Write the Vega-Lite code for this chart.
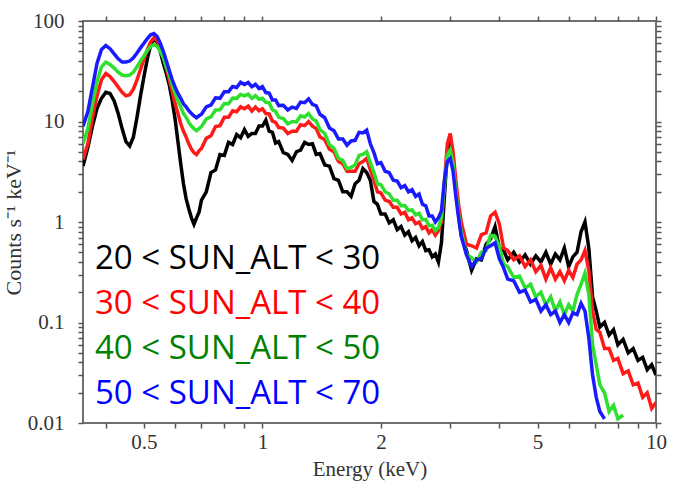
{
"$schema": "https://vega.github.io/schema/vega-lite/v6.json",
"width": 573, "height": 402,
"autosize": {"type": "none"},
"padding": {"left": 83, "top": 21, "right": 17, "bottom": 59},
"background": "white",
"config": {"view": {"stroke": "#707070", "strokeWidth": 2}, "axis": {"domain": false, "grid": false, "ticks": true, "tickSize": 5, "tickColor": "#555555", "tickWidth": 1.5, "labelFont": "Liberation Serif", "labelFontSize": 21, "labelColor": "#333333", "titleFont": "Liberation Serif", "titleFontSize": 21, "titleFontWeight": "normal", "titleColor": "#333333", "labelOverlap": false, "labelBound": false, "labelFlush": false}},
"layer": [
{
"data": {"values": [
{"g":"A","e":0.35,"v":3.6},{"g":"A","e":0.36,"v":5.5},{"g":"A","e":0.37,"v":9},{"g":"A","e":0.38,"v":13.5},{"g":"A","e":0.39,"v":17},{"g":"A","e":0.40,"v":19.5},{"g":"A","e":0.41,"v":19},{"g":"A","e":0.42,"v":16},{"g":"A","e":0.43,"v":12},{"g":"A","e":0.44,"v":8.5},{"g":"A","e":0.45,"v":6.3},{"g":"A","e":0.46,"v":5.7},{"g":"A","e":0.47,"v":7},{"g":"A","e":0.48,"v":11},{"g":"A","e":0.49,"v":18},{"g":"A","e":0.50,"v":28},{"g":"A","e":0.51,"v":42},{"g":"A","e":0.52,"v":58},{"g":"A","e":0.53,"v":66},{"g":"A","e":0.54,"v":62},{"g":"A","e":0.55,"v":50},{"g":"A","e":0.56,"v":38},{"g":"A","e":0.57,"v":30},{"g":"A","e":0.58,"v":23},{"g":"A","e":0.59,"v":16},{"g":"A","e":0.60,"v":10.5},{"g":"A","e":0.61,"v":6.3},{"g":"A","e":0.62,"v":3.8},{"g":"A","e":0.63,"v":2.4},{"g":"A","e":0.64,"v":1.7},{"g":"A","e":0.65,"v":1.35},{"g":"A","e":0.66,"v":1.1},{"g":"A","e":0.67,"v":0.95},{"g":"A","e":0.68,"v":1.1},{"g":"A","e":0.69,"v":1.25},{"g":"A","e":0.70,"v":1.65},
{"g":"A","e":0.72,"v":2.0},{"g":"A","e":0.74,"v":3.1},{"g":"A","e":0.76,"v":3.3},{"g":"A","e":0.78,"v":4.7},{"g":"A","e":0.80,"v":4.6},{"g":"A","e":0.82,"v":6.2},{"g":"A","e":0.84,"v":5.9},{"g":"A","e":0.86,"v":7.4},{"g":"A","e":0.88,"v":6.9},{"g":"A","e":0.90,"v":8.3},{"g":"A","e":0.92,"v":7.1},{"g":"A","e":0.94,"v":7.6},{"g":"A","e":0.96,"v":7.6},{"g":"A","e":0.98,"v":9.0},{"g":"A","e":1.00,"v":9.0},{"g":"A","e":1.02,"v":10.3},{"g":"A","e":1.04,"v":8.0},{"g":"A","e":1.06,"v":7.8},{"g":"A","e":1.08,"v":6.1},{"g":"A","e":1.10,"v":6.3},
{"g":"A","e":1.13,"v":4.9},{"g":"A","e":1.16,"v":4.7},{"g":"A","e":1.19,"v":4.1},{"g":"A","e":1.22,"v":5.0},{"g":"A","e":1.25,"v":5.2},{"g":"A","e":1.28,"v":6.2},{"g":"A","e":1.31,"v":5.9},{"g":"A","e":1.34,"v":6.0},{"g":"A","e":1.37,"v":4.7},{"g":"A","e":1.40,"v":4.8},
{"g":"A","e":1.44,"v":3.7},{"g":"A","e":1.48,"v":3.6},{"g":"A","e":1.52,"v":2.7},{"g":"A","e":1.56,"v":2.6},{"g":"A","e":1.60,"v":2.0},{"g":"A","e":1.64,"v":2.0},{"g":"A","e":1.68,"v":1.8},{"g":"A","e":1.72,"v":2.4},{"g":"A","e":1.76,"v":2.6},{"g":"A","e":1.80,"v":3.4},{"g":"A","e":1.84,"v":3.1},{"g":"A","e":1.88,"v":2.6},{"g":"A","e":1.92,"v":1.6},{"g":"A","e":1.96,"v":1.5},{"g":"A","e":2.00,"v":1.2},
{"g":"A","e":2.05,"v":1.2},{"g":"A","e":2.10,"v":0.98},{"g":"A","e":2.15,"v":1.05},{"g":"A","e":2.20,"v":0.84},{"g":"A","e":2.25,"v":0.9},{"g":"A","e":2.30,"v":0.74},{"g":"A","e":2.35,"v":0.8},{"g":"A","e":2.40,"v":0.65},{"g":"A","e":2.45,"v":0.7},{"g":"A","e":2.50,"v":0.58},{"g":"A","e":2.55,"v":0.64},{"g":"A","e":2.60,"v":0.52},{"g":"A","e":2.65,"v":0.53},{"g":"A","e":2.70,"v":0.45},{"g":"A","e":2.75,"v":0.48},{"g":"A","e":2.80,"v":0.4},{"g":"A","e":2.85,"v":0.62},{"g":"A","e":2.90,"v":1.8},{"g":"A","e":2.95,"v":5.0},{"g":"A","e":3.00,"v":6.8},{"g":"A","e":3.05,"v":4.5},{"g":"A","e":3.10,"v":2.2},{"g":"A","e":3.15,"v":1.2},{"g":"A","e":3.20,"v":0.75},
{"g":"A","e":3.30,"v":0.52},{"g":"A","e":3.40,"v":0.33},{"g":"A","e":3.50,"v":0.43},{"g":"A","e":3.60,"v":0.42},{"g":"A","e":3.70,"v":0.6},{"g":"A","e":3.80,"v":0.68},{"g":"A","e":3.90,"v":0.9},{"g":"A","e":4.00,"v":0.55},{"g":"A","e":4.10,"v":0.52},{"g":"A","e":4.20,"v":0.42},
{"g":"A","e":4.35,"v":0.5},{"g":"A","e":4.50,"v":0.4},{"g":"A","e":4.65,"v":0.47},{"g":"A","e":4.80,"v":0.38},{"g":"A","e":4.95,"v":0.46},{"g":"A","e":5.10,"v":0.4},{"g":"A","e":5.25,"v":0.5},{"g":"A","e":5.40,"v":0.38},{"g":"A","e":5.55,"v":0.48},{"g":"A","e":5.70,"v":0.42},{"g":"A","e":5.85,"v":0.55},{"g":"A","e":6.00,"v":0.36},{"g":"A","e":6.15,"v":0.45},{"g":"A","e":6.30,"v":0.5},{"g":"A","e":6.45,"v":0.8},{"g":"A","e":6.60,"v":1.0},{"g":"A","e":6.75,"v":0.55},{"g":"A","e":6.90,"v":0.18},{"g":"A","e":7.05,"v":0.13},{"g":"A","e":7.20,"v":0.09},
{"g":"A","e":7.40,"v":0.1},{"g":"A","e":7.60,"v":0.075},{"g":"A","e":7.80,"v":0.085},{"g":"A","e":8.00,"v":0.06},{"g":"A","e":8.25,"v":0.068},{"g":"A","e":8.50,"v":0.05},{"g":"A","e":8.75,"v":0.055},{"g":"A","e":9.00,"v":0.042},{"g":"A","e":9.25,"v":0.045},{"g":"A","e":9.50,"v":0.034},{"g":"A","e":9.75,"v":0.038},{"g":"A","e":10.0,"v":0.03},

{"g":"B","e":0.35,"v":4.2},{"g":"B","e":0.36,"v":6},{"g":"B","e":0.37,"v":11},{"g":"B","e":0.38,"v":18},{"g":"B","e":0.39,"v":26},{"g":"B","e":0.40,"v":30},{"g":"B","e":0.41,"v":28},{"g":"B","e":0.42,"v":25},{"g":"B","e":0.43,"v":22},{"g":"B","e":0.44,"v":19.5},{"g":"B","e":0.45,"v":18},{"g":"B","e":0.46,"v":18.5},{"g":"B","e":0.47,"v":21},{"g":"B","e":0.48,"v":26},{"g":"B","e":0.49,"v":33},{"g":"B","e":0.50,"v":42},{"g":"B","e":0.51,"v":52},{"g":"B","e":0.52,"v":62},{"g":"B","e":0.53,"v":68},{"g":"B","e":0.54,"v":64},{"g":"B","e":0.55,"v":55},{"g":"B","e":0.56,"v":44},{"g":"B","e":0.57,"v":34},{"g":"B","e":0.58,"v":26},{"g":"B","e":0.59,"v":20},{"g":"B","e":0.60,"v":15},{"g":"B","e":0.61,"v":12},{"g":"B","e":0.62,"v":9.5},{"g":"B","e":0.63,"v":8},{"g":"B","e":0.64,"v":7},{"g":"B","e":0.65,"v":6.0},{"g":"B","e":0.66,"v":5.3},{"g":"B","e":0.67,"v":4.9},{"g":"B","e":0.68,"v":4.7},{"g":"B","e":0.69,"v":5.1},{"g":"B","e":0.70,"v":5.4},
{"g":"B","e":0.72,"v":6.8},{"g":"B","e":0.74,"v":7.2},{"g":"B","e":0.76,"v":8.9},{"g":"B","e":0.78,"v":9.1},{"g":"B","e":0.80,"v":11.0},{"g":"B","e":0.82,"v":11.0},{"g":"B","e":0.84,"v":12.8},{"g":"B","e":0.86,"v":12.5},{"g":"B","e":0.88,"v":14.0},{"g":"B","e":0.90,"v":13.4},{"g":"B","e":0.92,"v":14.2},{"g":"B","e":0.94,"v":12.7},{"g":"B","e":0.96,"v":13.9},{"g":"B","e":0.98,"v":12.8},{"g":"B","e":1.00,"v":13.4},{"g":"B","e":1.02,"v":12.0},{"g":"B","e":1.04,"v":11.9},{"g":"B","e":1.06,"v":10.1},{"g":"B","e":1.08,"v":9.8},{"g":"B","e":1.10,"v":8.7},
{"g":"B","e":1.13,"v":8.6},{"g":"B","e":1.16,"v":7.6},{"g":"B","e":1.19,"v":8.0},{"g":"B","e":1.22,"v":8.0},{"g":"B","e":1.25,"v":9.3},{"g":"B","e":1.28,"v":9.1},{"g":"B","e":1.31,"v":10.0},{"g":"B","e":1.34,"v":9.0},{"g":"B","e":1.37,"v":8.5},{"g":"B","e":1.40,"v":7.0},
{"g":"B","e":1.44,"v":6.6},{"g":"B","e":1.48,"v":5.3},{"g":"B","e":1.52,"v":5.0},{"g":"B","e":1.56,"v":4.0},{"g":"B","e":1.60,"v":3.8},{"g":"B","e":1.64,"v":3.2},{"g":"B","e":1.68,"v":3.2},{"g":"B","e":1.72,"v":3.2},{"g":"B","e":1.76,"v":3.8},{"g":"B","e":1.80,"v":4.0},{"g":"B","e":1.84,"v":4.3},{"g":"B","e":1.88,"v":3.3},{"g":"B","e":1.92,"v":2.6},{"g":"B","e":1.96,"v":2.0},{"g":"B","e":2.00,"v":1.95},
{"g":"B","e":2.05,"v":1.65},{"g":"B","e":2.10,"v":1.6},{"g":"B","e":2.15,"v":1.4},{"g":"B","e":2.20,"v":1.4},{"g":"B","e":2.25,"v":1.2},{"g":"B","e":2.30,"v":1.25},{"g":"B","e":2.35,"v":1.05},{"g":"B","e":2.40,"v":1.1},{"g":"B","e":2.45,"v":0.96},{"g":"B","e":2.50,"v":1.0},{"g":"B","e":2.55,"v":0.86},{"g":"B","e":2.60,"v":0.9},{"g":"B","e":2.65,"v":0.78},{"g":"B","e":2.70,"v":0.84},{"g":"B","e":2.75,"v":0.74},{"g":"B","e":2.80,"v":0.82},{"g":"B","e":2.85,"v":1.0},{"g":"B","e":2.90,"v":2.5},{"g":"B","e":2.95,"v":6.0},{"g":"B","e":3.00,"v":7.6},{"g":"B","e":3.05,"v":5.0},{"g":"B","e":3.10,"v":2.6},{"g":"B","e":3.15,"v":1.5},{"g":"B","e":3.20,"v":1.0},
{"g":"B","e":3.30,"v":0.6},{"g":"B","e":3.40,"v":0.58},{"g":"B","e":3.50,"v":0.55},{"g":"B","e":3.60,"v":0.75},{"g":"B","e":3.70,"v":0.78},{"g":"B","e":3.80,"v":1.15},{"g":"B","e":3.90,"v":1.25},{"g":"B","e":4.00,"v":0.95},{"g":"B","e":4.10,"v":0.55},{"g":"B","e":4.20,"v":0.52},
{"g":"B","e":4.35,"v":0.42},{"g":"B","e":4.50,"v":0.46},{"g":"B","e":4.65,"v":0.36},{"g":"B","e":4.80,"v":0.42},{"g":"B","e":4.95,"v":0.32},{"g":"B","e":5.10,"v":0.37},{"g":"B","e":5.25,"v":0.27},{"g":"B","e":5.40,"v":0.35},{"g":"B","e":5.55,"v":0.27},{"g":"B","e":5.70,"v":0.32},{"g":"B","e":5.85,"v":0.26},{"g":"B","e":6.00,"v":0.33},{"g":"B","e":6.15,"v":0.28},{"g":"B","e":6.30,"v":0.38},{"g":"B","e":6.45,"v":0.42},{"g":"B","e":6.60,"v":0.52},{"g":"B","e":6.75,"v":0.33},{"g":"B","e":6.90,"v":0.13},{"g":"B","e":7.05,"v":0.085},{"g":"B","e":7.20,"v":0.08},
{"g":"B","e":7.40,"v":0.055},{"g":"B","e":7.60,"v":0.055},{"g":"B","e":7.80,"v":0.042},{"g":"B","e":8.00,"v":0.044},{"g":"B","e":8.25,"v":0.031},{"g":"B","e":8.50,"v":0.033},{"g":"B","e":8.75,"v":0.024},{"g":"B","e":9.00,"v":0.025},{"g":"B","e":9.25,"v":0.018},{"g":"B","e":9.50,"v":0.02},{"g":"B","e":9.75,"v":0.014},{"g":"B","e":10.0,"v":0.016},

{"g":"C","e":0.35,"v":6},{"g":"C","e":0.36,"v":8.5},{"g":"C","e":0.37,"v":15},{"g":"C","e":0.38,"v":25},{"g":"C","e":0.39,"v":35},{"g":"C","e":0.40,"v":39},{"g":"C","e":0.41,"v":37},{"g":"C","e":0.42,"v":34},{"g":"C","e":0.43,"v":31},{"g":"C","e":0.44,"v":29},{"g":"C","e":0.45,"v":28.5},{"g":"C","e":0.46,"v":29},{"g":"C","e":0.47,"v":31},{"g":"C","e":0.48,"v":35},{"g":"C","e":0.49,"v":40},{"g":"C","e":0.50,"v":45},{"g":"C","e":0.51,"v":51},{"g":"C","e":0.52,"v":56},{"g":"C","e":0.53,"v":58},{"g":"C","e":0.54,"v":56},{"g":"C","e":0.55,"v":50},{"g":"C","e":0.56,"v":43},{"g":"C","e":0.57,"v":35},{"g":"C","e":0.58,"v":29},{"g":"C","e":0.59,"v":23},{"g":"C","e":0.60,"v":19},{"g":"C","e":0.61,"v":16},{"g":"C","e":0.62,"v":14},{"g":"C","e":0.63,"v":12},{"g":"C","e":0.64,"v":11},{"g":"C","e":0.65,"v":9.8},{"g":"C","e":0.66,"v":9},{"g":"C","e":0.67,"v":8.5},{"g":"C","e":0.68,"v":8.1},{"g":"C","e":0.69,"v":8.5},{"g":"C","e":0.70,"v":8.9},
{"g":"C","e":0.72,"v":10.6},{"g":"C","e":0.74,"v":11.1},{"g":"C","e":0.76,"v":13.0},{"g":"C","e":0.78,"v":13.1},{"g":"C","e":0.80,"v":15.1},{"g":"C","e":0.82,"v":15.0},{"g":"C","e":0.84,"v":17.1},{"g":"C","e":0.86,"v":17.0},{"g":"C","e":0.88,"v":18.6},{"g":"C","e":0.90,"v":18.0},{"g":"C","e":0.92,"v":18.7},{"g":"C","e":0.94,"v":17.0},{"g":"C","e":0.96,"v":18.1},{"g":"C","e":0.98,"v":16.6},{"g":"C","e":1.00,"v":17.0},{"g":"C","e":1.02,"v":15.5},{"g":"C","e":1.04,"v":15.4},{"g":"C","e":1.06,"v":13.1},{"g":"C","e":1.08,"v":12.6},{"g":"C","e":1.10,"v":11.0},
{"g":"C","e":1.13,"v":10.7},{"g":"C","e":1.16,"v":9.5},{"g":"C","e":1.19,"v":10.0},{"g":"C","e":1.22,"v":9.9},{"g":"C","e":1.25,"v":11.4},{"g":"C","e":1.28,"v":11.1},{"g":"C","e":1.31,"v":12.0},{"g":"C","e":1.34,"v":10.6},{"g":"C","e":1.37,"v":10.1},{"g":"C","e":1.40,"v":8.3},
{"g":"C","e":1.44,"v":7.6},{"g":"C","e":1.48,"v":5.9},{"g":"C","e":1.52,"v":5.4},{"g":"C","e":1.56,"v":4.3},{"g":"C","e":1.60,"v":4.1},{"g":"C","e":1.64,"v":3.4},{"g":"C","e":1.68,"v":3.5},{"g":"C","e":1.72,"v":3.7},{"g":"C","e":1.76,"v":4.6},{"g":"C","e":1.80,"v":4.7},{"g":"C","e":1.84,"v":5.0},{"g":"C","e":1.88,"v":3.9},{"g":"C","e":1.92,"v":3.1},{"g":"C","e":1.96,"v":2.4},{"g":"C","e":2.00,"v":2.35},
{"g":"C","e":2.05,"v":2.0},{"g":"C","e":2.10,"v":1.9},{"g":"C","e":2.15,"v":1.65},{"g":"C","e":2.20,"v":1.65},{"g":"C","e":2.25,"v":1.45},{"g":"C","e":2.30,"v":1.46},{"g":"C","e":2.35,"v":1.3},{"g":"C","e":2.40,"v":1.32},{"g":"C","e":2.45,"v":1.18},{"g":"C","e":2.50,"v":1.22},{"g":"C","e":2.55,"v":1.05},{"g":"C","e":2.60,"v":1.06},{"g":"C","e":2.65,"v":0.92},{"g":"C","e":2.70,"v":0.93},{"g":"C","e":2.75,"v":0.82},{"g":"C","e":2.80,"v":0.88},{"g":"C","e":2.85,"v":1.1},{"g":"C","e":2.90,"v":2.3},{"g":"C","e":2.95,"v":4.6},{"g":"C","e":3.00,"v":5.2},{"g":"C","e":3.05,"v":3.8},{"g":"C","e":3.10,"v":2.0},{"g":"C","e":3.15,"v":1.2},{"g":"C","e":3.20,"v":0.8},
{"g":"C","e":3.30,"v":0.48},{"g":"C","e":3.40,"v":0.44},{"g":"C","e":3.50,"v":0.4},{"g":"C","e":3.60,"v":0.5},{"g":"C","e":3.70,"v":0.52},{"g":"C","e":3.80,"v":0.74},{"g":"C","e":3.90,"v":0.72},{"g":"C","e":4.00,"v":0.57},{"g":"C","e":4.10,"v":0.38},{"g":"C","e":4.20,"v":0.36},
{"g":"C","e":4.35,"v":0.28},{"g":"C","e":4.50,"v":0.29},{"g":"C","e":4.65,"v":0.22},{"g":"C","e":4.80,"v":0.24},{"g":"C","e":4.95,"v":0.18},{"g":"C","e":5.10,"v":0.2},{"g":"C","e":5.25,"v":0.15},{"g":"C","e":5.40,"v":0.18},{"g":"C","e":5.55,"v":0.13},{"g":"C","e":5.70,"v":0.16},{"g":"C","e":5.85,"v":0.12},{"g":"C","e":6.00,"v":0.15},{"g":"C","e":6.15,"v":0.13},{"g":"C","e":6.30,"v":0.19},{"g":"C","e":6.45,"v":0.24},{"g":"C","e":6.60,"v":0.31},{"g":"C","e":6.75,"v":0.19},{"g":"C","e":6.90,"v":0.06},{"g":"C","e":7.05,"v":0.038},{"g":"C","e":7.20,"v":0.024},
{"g":"C","e":7.40,"v":0.02},{"g":"C","e":7.60,"v":0.013},{"g":"C","e":7.80,"v":0.015},{"g":"C","e":8.00,"v":0.011},{"g":"C","e":8.25,"v":0.012},

{"g":"D","e":0.35,"v":9},{"g":"D","e":0.36,"v":12.5},{"g":"D","e":0.37,"v":22},{"g":"D","e":0.38,"v":38},{"g":"D","e":0.39,"v":52},{"g":"D","e":0.40,"v":57},{"g":"D","e":0.41,"v":53},{"g":"D","e":0.42,"v":47},{"g":"D","e":0.43,"v":42},{"g":"D","e":0.44,"v":39},{"g":"D","e":0.45,"v":39},{"g":"D","e":0.46,"v":40},{"g":"D","e":0.47,"v":43},{"g":"D","e":0.48,"v":48},{"g":"D","e":0.49,"v":54},{"g":"D","e":0.50,"v":60},{"g":"D","e":0.51,"v":67},{"g":"D","e":0.52,"v":73},{"g":"D","e":0.53,"v":75},{"g":"D","e":0.54,"v":70},{"g":"D","e":0.55,"v":60},{"g":"D","e":0.56,"v":50},{"g":"D","e":0.57,"v":40},{"g":"D","e":0.58,"v":32},{"g":"D","e":0.59,"v":26},{"g":"D","e":0.60,"v":22},{"g":"D","e":0.61,"v":19},{"g":"D","e":0.62,"v":17},{"g":"D","e":0.63,"v":15},{"g":"D","e":0.64,"v":14},{"g":"D","e":0.65,"v":12.8},{"g":"D","e":0.66,"v":12},{"g":"D","e":0.67,"v":11.4},{"g":"D","e":0.68,"v":10.9},{"g":"D","e":0.69,"v":11.4},{"g":"D","e":0.70,"v":11.8},
{"g":"D","e":0.72,"v":14.0},{"g":"D","e":0.74,"v":14.6},{"g":"D","e":0.76,"v":17.2},{"g":"D","e":0.78,"v":17.0},{"g":"D","e":0.80,"v":19.8},{"g":"D","e":0.82,"v":19.8},{"g":"D","e":0.84,"v":22.3},{"g":"D","e":0.86,"v":21.8},{"g":"D","e":0.88,"v":24.5},{"g":"D","e":0.90,"v":23.3},{"g":"D","e":0.92,"v":24.4},{"g":"D","e":0.94,"v":22.2},{"g":"D","e":0.96,"v":23.4},{"g":"D","e":0.98,"v":21.3},{"g":"D","e":1.00,"v":22.2},{"g":"D","e":1.02,"v":19.4},{"g":"D","e":1.04,"v":19.2},{"g":"D","e":1.06,"v":16.4},{"g":"D","e":1.08,"v":16.4},{"g":"D","e":1.10,"v":14.4},
{"g":"D","e":1.13,"v":14.5},{"g":"D","e":1.16,"v":13.0},{"g":"D","e":1.19,"v":13.9},{"g":"D","e":1.22,"v":13.5},{"g":"D","e":1.25,"v":15.6},{"g":"D","e":1.28,"v":15.4},{"g":"D","e":1.31,"v":16.8},{"g":"D","e":1.34,"v":14.8},{"g":"D","e":1.37,"v":14.3},{"g":"D","e":1.40,"v":11.8},
{"g":"D","e":1.44,"v":10.9},{"g":"D","e":1.48,"v":8.6},{"g":"D","e":1.52,"v":8.1},{"g":"D","e":1.56,"v":6.7},{"g":"D","e":1.60,"v":6.7},{"g":"D","e":1.64,"v":5.8},{"g":"D","e":1.68,"v":6.4},{"g":"D","e":1.72,"v":6.5},{"g":"D","e":1.76,"v":7.8},{"g":"D","e":1.80,"v":7.7},{"g":"D","e":1.84,"v":8.2},{"g":"D","e":1.88,"v":6.0},{"g":"D","e":1.92,"v":4.9},{"g":"D","e":1.96,"v":3.8},{"g":"D","e":2.00,"v":3.9},
{"g":"D","e":2.05,"v":3.2},{"g":"D","e":2.10,"v":3.1},{"g":"D","e":2.15,"v":2.6},{"g":"D","e":2.20,"v":2.55},{"g":"D","e":2.25,"v":2.2},{"g":"D","e":2.30,"v":2.3},{"g":"D","e":2.35,"v":2.0},{"g":"D","e":2.40,"v":2.1},{"g":"D","e":2.45,"v":1.8},{"g":"D","e":2.50,"v":1.9},{"g":"D","e":2.55,"v":1.5},{"g":"D","e":2.60,"v":1.45},{"g":"D","e":2.65,"v":1.15},{"g":"D","e":2.70,"v":1.15},{"g":"D","e":2.75,"v":1.0},{"g":"D","e":2.80,"v":1.1},{"g":"D","e":2.85,"v":1.3},{"g":"D","e":2.90,"v":2.6},{"g":"D","e":2.95,"v":4.0},{"g":"D","e":3.00,"v":4.3},{"g":"D","e":3.05,"v":3.2},{"g":"D","e":3.10,"v":1.8},{"g":"D","e":3.15,"v":1.1},{"g":"D","e":3.20,"v":0.72},
{"g":"D","e":3.30,"v":0.47},{"g":"D","e":3.40,"v":0.36},{"g":"D","e":3.50,"v":0.42},{"g":"D","e":3.60,"v":0.43},{"g":"D","e":3.70,"v":0.55},{"g":"D","e":3.80,"v":0.58},{"g":"D","e":3.90,"v":0.62},{"g":"D","e":4.00,"v":0.43},{"g":"D","e":4.10,"v":0.35},{"g":"D","e":4.20,"v":0.27},
{"g":"D","e":4.35,"v":0.26},{"g":"D","e":4.50,"v":0.2},{"g":"D","e":4.65,"v":0.21},{"g":"D","e":4.80,"v":0.16},{"g":"D","e":4.95,"v":0.17},{"g":"D","e":5.10,"v":0.13},{"g":"D","e":5.25,"v":0.15},{"g":"D","e":5.40,"v":0.12},{"g":"D","e":5.55,"v":0.13},{"g":"D","e":5.70,"v":0.1},{"g":"D","e":5.85,"v":0.12},{"g":"D","e":6.00,"v":0.1},{"g":"D","e":6.15,"v":0.125},{"g":"D","e":6.30,"v":0.12},{"g":"D","e":6.45,"v":0.155},{"g":"D","e":6.60,"v":0.13},{"g":"D","e":6.75,"v":0.07},{"g":"D","e":6.90,"v":0.03},{"g":"D","e":7.05,"v":0.018},{"g":"D","e":7.20,"v":0.013},
{"g":"D","e":7.40,"v":0.011}
]},
"mark": {"type": "line", "strokeWidth": 3.5, "clip": true},
"encoding": {
"x": {"field": "e", "type": "quantitative", "scale": {"type": "log", "domain": [0.35, 10], "nice": false, "zero": false},
 "axis": {"orient": "bottom", "title": "Energy (keV)", "titlePadding": 6, "labelPadding": 3,
  "values": [0.4, 0.5, 0.6, 0.7, 0.8, 0.9, 1, 2, 3, 4, 5, 6, 7, 8, 9, 10],
  "labelExpr": "indexof([0.5, 1, 2, 5, 10], datum.value) >= 0 ? '' + datum.value : ''",
  "encode": {"ticks": {"update": {"y2": {"signal": "datum.value == 1 || datum.value == 10 ? -9 : -5"}}}}}},
"y": {"field": "v", "type": "quantitative", "scale": {"type": "log", "domain": [0.01, 100], "nice": false, "zero": false},
 "axis": {"orient": "left", "title": "Counts s⁻¹ keV⁻¹", "titleFontSize": 22, "titlePadding": 2, "labelPadding": 14,
  "values": [0.01, 0.02, 0.03, 0.04, 0.05, 0.06, 0.07, 0.08, 0.09, 0.1, 0.2, 0.3, 0.4, 0.5, 0.6, 0.7, 0.8, 0.9, 1, 2, 3, 4, 5, 6, 7, 8, 9, 10, 20, 30, 40, 50, 60, 70, 80, 90, 100],
  "labelExpr": "indexof([0.01, 0.1, 1, 10, 100], datum.value) >= 0 ? '' + datum.value : ''",
  "encode": {"ticks": {"update": {"x2": {"signal": "indexof([0.01, 0.1, 1, 10, 100], datum.value) >= 0 ? 9 : 5"}}}}}},
"color": {"field": "g", "type": "nominal", "scale": {"domain": ["A", "B", "C", "D"], "range": ["#000000", "#ff1a1a", "#2ee02e", "#1a1aff"]},
 "legend": {"orient": "none", "legendX": -21, "legendY": 221, "title": null, "padding": 0, "symbolSize": 0, "symbolOpacity": 0, "symbolStrokeWidth": 0, "labelOffset": 0, "labelLimit": 0, "labelFont": "Open Sans", "labelFontSize": 33, "rowPadding": 11,
  "labelExpr": "{'A': '20 < SUN_ALT < 30', 'B': '30 < SUN_ALT < 40', 'C': '40 < SUN_ALT < 50', 'D': '50 < SUN_ALT < 70'}[datum.label]",
  "encode": {"labels": {"update": {"fill": {"signal": "datum.value == 'A' ? '#000000' : datum.value == 'B' ? '#ff0000' : datum.value == 'C' ? '#008000' : '#0000ff'"}}}}}}
}
},
{
"data": {"values": [{"e": 1, "v": 1}]},
"mark": {"type": "point", "opacity": 0},
"encoding": {
"x": {"field": "e", "type": "quantitative", "scale": {"type": "log", "domain": [0.35, 10], "nice": false, "zero": false},
 "axis": {"orient": "top", "title": null, "labels": false,
  "values": [0.4, 0.5, 0.6, 0.7, 0.8, 0.9, 1, 2, 3, 4, 5, 6, 7, 8, 9, 10],
  "encode": {"ticks": {"update": {"y2": {"signal": "datum.value == 1 || datum.value == 10 ? 9 : 5"}}}}}},
"y": {"field": "v", "type": "quantitative", "scale": {"type": "log", "domain": [0.01, 100], "nice": false, "zero": false},
 "axis": {"orient": "right", "title": null, "labels": false,
  "values": [0.01, 0.02, 0.03, 0.04, 0.05, 0.06, 0.07, 0.08, 0.09, 0.1, 0.2, 0.3, 0.4, 0.5, 0.6, 0.7, 0.8, 0.9, 1, 2, 3, 4, 5, 6, 7, 8, 9, 10, 20, 30, 40, 50, 60, 70, 80, 90, 100],
  "encode": {"ticks": {"update": {"x2": {"signal": "indexof([0.01, 0.1, 1, 10, 100], datum.value) >= 0 ? -9 : -5"}}}}}}
}
}
],
"resolve": {"axis": {"x": "independent", "y": "independent"}}
}
